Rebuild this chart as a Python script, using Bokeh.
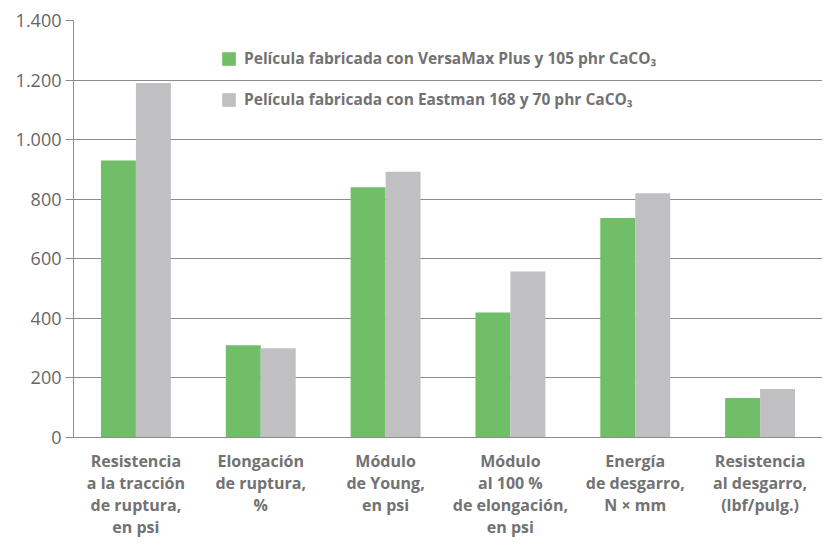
from bokeh.plotting import figure
from bokeh.models import FactorRange, ColumnDataSource, FixedTicker, Legend, LegendItem
from bokeh.transform import dodge
from bokeh.embed import file_html
from bokeh.resources import INLINE

categories = [
    "Resistencia\na la tracción\nde ruptura,\nen psi",
    "Elongación\nde ruptura,\n%",
    "Módulo\nde Young,\nen psi",
    "Módulo\nal 100 %\nde elongación,\nen psi",
    "Energía\nde desgarro,\nN × mm",
    "Resistencia\nal desgarro,\n(lbf/pulg.)",
]
versamax = [930, 310, 840, 420, 737, 133]
eastman = [1190, 300, 892, 557, 820, 163]
series_names = [
    "Película fabricada con VersaMax Plus y 105 phr CaCO₃",
    "Película fabricada con Eastman 168 y 70 phr CaCO₃",
]
y_ticks = [0, 200, 400, 600, 800, 1000, 1200, 1400]
y_tick_labels = ["0", "200", "400", "600", "800", "1.000", "1.200", "1.400"]

GREEN = "#70bf68"
GRAY = "#c0c0c2"
TEXT = "#727272"
LINE = "#8c8c8c"

src = ColumnDataSource(dict(cat=categories, v=versamax, e=eastman))

p = figure(x_range=FactorRange(factors=categories), y_range=(0, 1400),
           width=822, height=540, output_backend="svg", toolbar_location=None,
           min_border_left=73, min_border_right=0, min_border_top=20, min_border_bottom=100)

r1 = p.vbar(x=dodge("cat", -0.14, range=p.x_range), top="v", width=0.28, source=src,
            fill_color=GREEN, line_color=None)
r2 = p.vbar(x=dodge("cat", 0.14, range=p.x_range), top="e", width=0.28, source=src,
            fill_color=GRAY, line_color=None)

p.outline_line_color = None
p.xgrid.grid_line_color = None
p.ygrid.grid_line_color = LINE
p.ygrid.grid_line_width = 1
p.ygrid.ticker = FixedTicker(ticks=y_ticks)

p.yaxis.ticker = FixedTicker(ticks=y_ticks)
p.yaxis.major_label_overrides = {t: l for t, l in zip(y_ticks, y_tick_labels)}
p.yaxis.axis_line_color = LINE
p.yaxis.major_tick_line_color = LINE
p.yaxis.major_tick_out = 8
p.yaxis.major_tick_in = 0
p.yaxis.minor_tick_line_color = None
p.yaxis.major_label_standoff = 4
p.yaxis.major_label_text_font = "Open Sans"
p.yaxis.major_label_text_font_size = "18px"
p.yaxis.major_label_text_color = "#666666"

p.xaxis.axis_line_color = LINE
p.xaxis.major_tick_line_color = None
p.xaxis.major_tick_in = 0
p.xaxis.major_tick_out = 0
p.xaxis.major_label_standoff = 12
p.xaxis.major_label_text_font = "Open Sans"
p.xaxis.major_label_text_font_style = "bold"
p.xaxis.major_label_text_font_size = "16px"
p.xaxis.major_label_text_color = TEXT
p.xaxis.major_label_text_line_height = 1.0
p.xaxis.major_label_orientation = "horizontal"

legend = Legend(items=[LegendItem(label=series_names[0], renderers=[r1]),
                       LegendItem(label=series_names[1], renderers=[r2])],
                location=(147, 327), padding=0, margin=0, spacing=19,
                glyph_width=17, glyph_height=17, label_height=17, label_standoff=7,
                border_line_color=None, background_fill_alpha=0,
                label_text_font="Open Sans", label_text_font_style="bold",
                label_text_font_size="15.5px", label_text_color=TEXT)
p.add_layout(legend)

open("out.html", "w").write(file_html(p, INLINE))
